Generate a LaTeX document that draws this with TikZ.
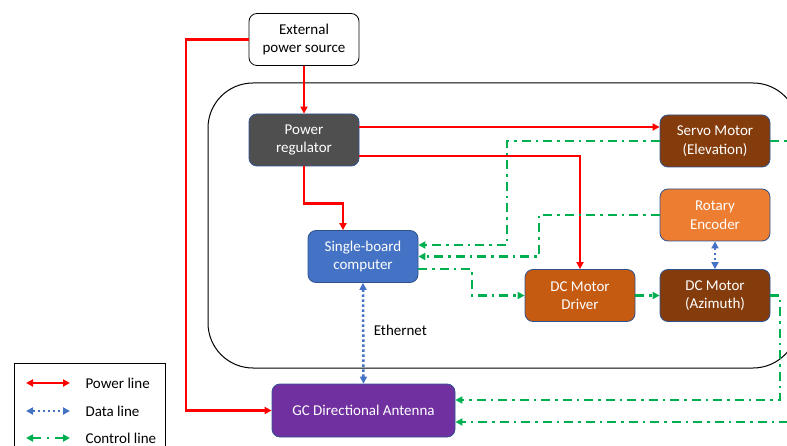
\documentclass[tikz,border=0pt]{standalone}
\usepackage{fontspec}
\setmainfont{Carlito}
\usetikzlibrary{arrows.meta}
\definecolor{boxline}{HTML}{2F528F}
\definecolor{regfill}{HTML}{4F4F4F}
\definecolor{sbcfill}{HTML}{4472C4}
\definecolor{drvfill}{HTML}{C55A11}
\definecolor{motfill}{HTML}{843C0C}
\definecolor{encfill}{HTML}{ED7D31}
\definecolor{antfill}{HTML}{7030A0}
\definecolor{pwr}{HTML}{FF0000}
\definecolor{ctl}{HTML}{00B050}
\definecolor{dat}{HTML}{4472C4}
\tikzset{
  block/.style={draw=boxline, line width=0.8pt, rounded corners=8pt,
    minimum width=110pt, minimum height=52pt, text=white, align=center,
    font=\fontsize{15}{18.5}\selectfont, inner sep=0pt},
  powerln/.style={draw=pwr, line width=2.5pt, -{Triangle[length=7pt,width=7pt]}},
  controlln/.style={draw=ctl, line width=2.7pt,
    dash pattern=on 9pt off 5pt on 2.5pt off 5pt, -{Triangle[length=7pt,width=7pt]}},
  dataln/.style={draw=dat, line width=2.5pt, dash pattern=on 2.4pt off 2.6pt,
    {Triangle[length=7pt,width=7pt]}-{Triangle[length=7pt,width=7pt]}},
  lbl/.style={font=\fontsize{15}{18.5}\selectfont, text=black}
}
\begin{document}
\begin{tikzpicture}[x=1pt,y=-1pt]
\useasboundingbox (0,0) rectangle (787,446);
\clip (0,0) rectangle (787,446);

% enclosure of the on-board system
\draw[line width=1pt, rounded corners=45pt] (208,83) rectangle (798,368);

% blocks
\node[block, draw=black, fill=white, text=black] (ext) at (304,39.5) {External\\power source};
\node[block, fill=regfill] (preg) at (304,140) {Power\\regulator};
\node[block, fill=motfill] (servo) at (715,141) {Servo Motor\\(Elevation)};
\node[block, fill=encfill] (enc) at (715,215) {Rotary\\Encoder};
\node[block, fill=motfill] (dcm) at (715,295.5) {DC Motor\\(Azimuth)};
\node[block, fill=drvfill] (drv) at (580,295.5) {DC Motor\\Driver};
\node[block, fill=sbcfill] (sbc) at (363,256.5) {Single-board\\computer};
\node[block, fill=antfill, minimum width=183pt, minimum height=53pt] (ant) at (363.5,410.5) {GC Directional Antenna};

% power lines
\draw[powerln] (ext) -- (preg);
\coordinate (pwrleft) at (186,39.5);
\draw[powerln] (ext.west) -- (pwrleft) |- (ant.west);
\draw[powerln] ([yshift=13pt]preg.east) -- ([yshift=13pt]preg.east -| servo.west);
\draw[powerln] ([yshift=-16pt]preg.east) -| (drv.north);
\draw[powerln] (preg.south) -- ++(0,37) -| ([xshift=-20pt]sbc.north);

% control lines
\draw[controlln] (servo.west) -| (507,245) -- ([yshift=11.5pt]sbc.east);
\draw[controlln] (enc.west) -| (539,256.5) -- (sbc.east);
\draw[controlln] ([yshift=-12.5pt]sbc.east) -| (472,295.5) -- (drv.west);
\draw[controlln] (drv.east) -- (dcm.west);
\draw[controlln] (dcm.east) -| (780,400) -- ([yshift=10.5pt]ant.east);
\draw[controlln] (servo.east) -| (800,422) -- ([yshift=-11.5pt]ant.east);

% data lines
\draw[dataln] (enc.south) -- (dcm.north);
\draw[dataln] (sbc.south) -- node[lbl, right=6pt, pos=0.47] {Ethernet} (ant.north);

% legend
\draw[line width=0.8pt] (14,363) rectangle (165,460);
\coordinate (lp1) at (26,383); \coordinate (lp2) at (70,383);
\coordinate (ld1) at (26,411); \coordinate (ld2) at (70,411);
\coordinate (lc1) at (26,438); \coordinate (lc2) at (70,438);
\draw[powerln, {Triangle[length=7pt,width=7pt]}-{Triangle[length=7pt,width=7pt]}] (lp1) -- (lp2);
\draw[dataln] (ld1) -- (ld2);
\draw[controlln, {Triangle[length=7pt,width=7pt]}-{Triangle[length=7pt,width=7pt]}, dash pattern=on 8pt off 6pt on 2.5pt off 6pt] (lc1) -- (lc2);
\node[lbl, anchor=west] at (82,383) {Power line};
\node[lbl, anchor=west] at (82,411) {Data line};
\node[lbl, anchor=west] at (82,438) {Control line};
\end{tikzpicture}
\end{document}
